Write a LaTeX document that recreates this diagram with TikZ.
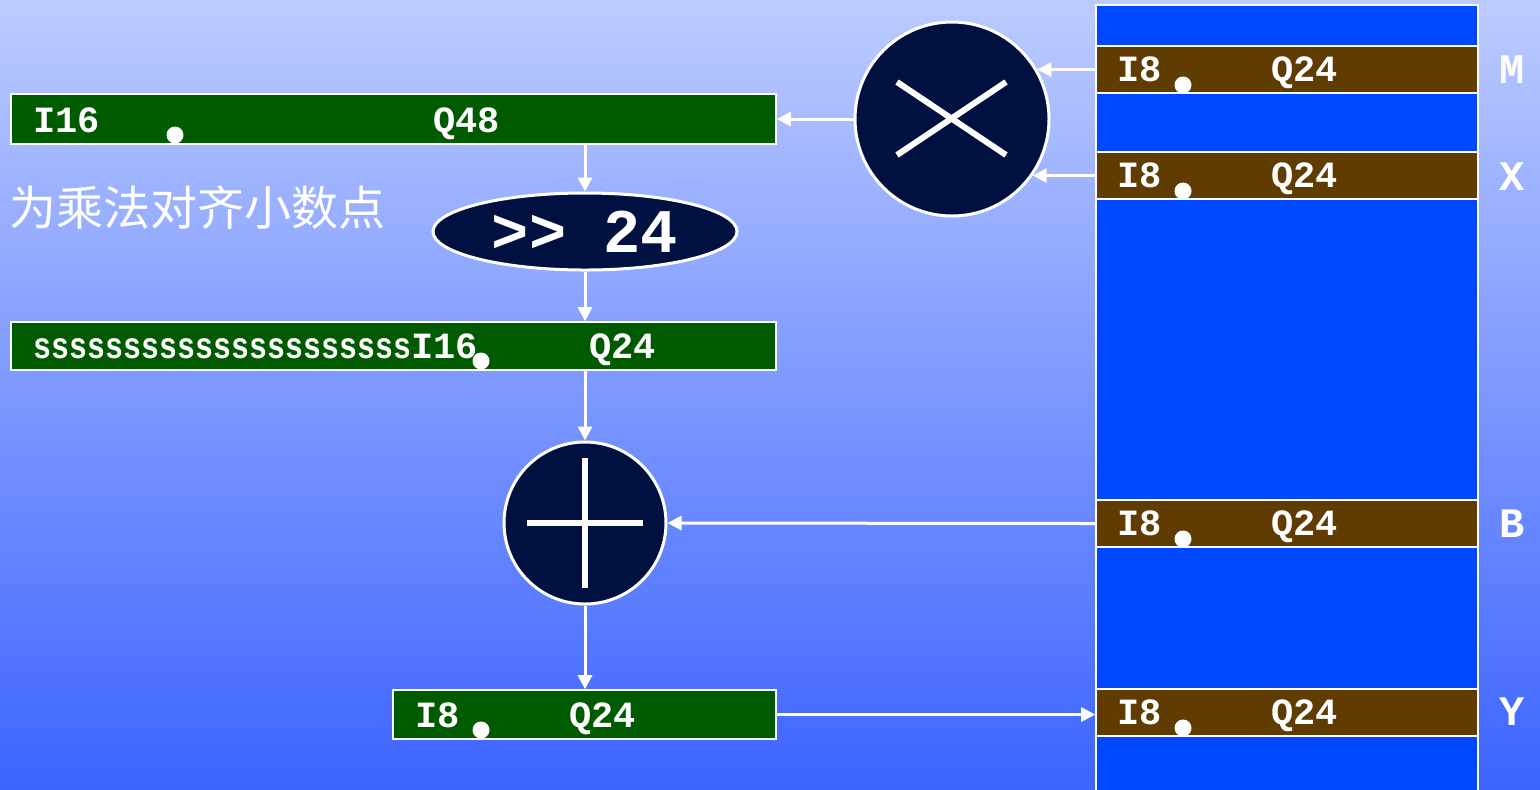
\documentclass[tikz,border=0pt]{standalone}
\usepackage{fontspec}
\usepackage{graphicx}
\setmonofont{Liberation Mono}
\newfontfamily\cjk{Noto Sans CJK SC}
\usetikzlibrary{positioning, arrows.meta, shapes.geometric, calc}
\definecolor{bgtop}{RGB}{188,203,255}
\definecolor{bgbot}{RGB}{60,100,255}
\definecolor{reggreen}{RGB}{0,90,0}
\definecolor{membrown}{RGB}{96,60,0}
\definecolor{memblue}{RGB}{0,72,255}
\definecolor{opnavy}{RGB}{0,16,64}
\tikzset{
  regbox/.style={
    rectangle, draw=white, line width=0.8pt,
    fill=reggreen, inner sep=0pt
  },
  membar/.style={
    rectangle, draw=white, line width=0.8pt,
    fill=membrown, inner sep=0pt,
    minimum width=191pt, minimum height=23.5pt
  },
  memcol/.style={
    rectangle, draw=white, line width=0.8pt,
    fill=memblue, inner sep=0pt
  },
  opcircle/.style={
    circle, draw=white, line width=1.5pt,
    fill=opnavy, inner sep=0pt
  },
  bitlabel/.style={
    text=white, inner sep=0pt, anchor=base west,
    font=\ttfamily\bfseries\fontsize{18.5}{20}\selectfont
  },
  reglabel/.style={
    text=white, inner sep=0pt, anchor=base,
    font=\ttfamily\bfseries\fontsize{21}{24}\selectfont
  },
  pointdot/.style={circle, fill=white, minimum size=8.5pt, inner sep=0pt},
  wire/.style={
    -{Triangle[length=7pt,width=7pt]}, draw=white, line width=1.5pt
  },
  opstroke/.style={draw=white, line width=3pt}
}

\begin{document}
\begin{tikzpicture}[x=0.5pt, y=-0.5pt]
  \shade[top color=bgtop, bottom color=bgbot] (0,0) rectangle (1540,789);
  \useasboundingbox (0,0) rectangle (1540,789);

  % memory column
  \node[memcol, minimum width=191pt, minimum height=393.5pt] (mem) at (1287,398.5) {};
  \node[membar] (memM) at (1287,69.5) {};
  \node[membar] (memX) at (1287,175.5) {};
  \node[membar] (memB) at (1287,523.5) {};
  \node[membar] (memY) at (1287,712.5) {};
  \foreach \nm/\yb in {M/81, X/187, B/535, Y/724} {
    \node[bitlabel] (memI\nm) at (1117,\yb) {I8};
    \node[bitlabel] (memQ\nm) at (1271,\yb) {Q24};
    \node[pointdot] (memD\nm) at (1183,\yb+4) {};
  }
  \node[reglabel] (labM) at (1512,83) {M};
  \node[reglabel] (labX) at (1512,190) {X};
  \node[reglabel] (labB) at (1512,537) {B};
  \node[reglabel] (labY) at (1512,725) {Y};

  % registers
  \node[regbox, minimum width=382.5pt, minimum height=25pt] (gtop) at (393.5,119) {};
  \node[bitlabel] (gtopI) at (33,132) {I16};
  \node[bitlabel] (gtopQ) at (433,132) {Q48};
  \node[pointdot] (gtopD) at (175,135) {};

  \node[regbox, minimum width=382.5pt, minimum height=24pt] (gmid) at (393.5,346) {};
  \node[bitlabel] (gmidI) at (33,358) {\scalebox{0.81}[1]{sssssssssssssssssssss}I16};
  \node[bitlabel] (gmidQ) at (589,358) {Q24};
  \node[pointdot] (gmidD) at (481,361) {};

  \node[regbox, minimum width=191.5pt, minimum height=24.5pt] (gbot) at (584.5,714.5) {};
  \node[bitlabel] (gbotI) at (415,727) {I8};
  \node[bitlabel] (gbotQ) at (569,727) {Q24};
  \node[pointdot] (gbotD) at (481,730) {};

  \node[text=white, inner sep=0pt, anchor=west,
        font=\cjk\fontsize{23.5}{26}\selectfont] (note) at (9,208) {为乘法对齐小数点};

  % operators
  \node[opcircle, minimum size=97pt] (mul) at (952,119) {};
  \draw[opstroke] ([shift={(-55,-37)}]mul.center) -- ([shift={(54,36)}]mul.center);
  \draw[opstroke] ([shift={(-55,36)}]mul.center) -- ([shift={(54,-37)}]mul.center);

  \node[ellipse, draw=white, line width=1.5pt, fill=opnavy, inner sep=0pt,
        minimum width=152pt, minimum height=38.5pt, text=white,
        font=\ttfamily\bfseries\fontsize{31}{34}\selectfont] (shr) at (585,231.5) {>> 24};

  \node[opcircle, minimum size=81pt] (add) at (585,523) {};
  \draw[opstroke] ([xshift=-29pt]add.center) -- ([xshift=29pt]add.center);
  \draw[opstroke] ([yshift=32.5pt]add.center) -- ([yshift=-32.5pt]add.center);

  % connectors
  \draw[wire] (memM.west) -- (memM.west -| mul.30.7);
  \draw[wire] (memX.west) -- (memX.west -| mul.-35.6);
  \draw[wire] (mul.west) -- (gtop.east);
  \draw[wire] (gtop.south -| shr.north) -- (shr.north);
  \draw[wire] (shr.south) -- (gmid.north -| shr.south);
  \draw[wire] (gmid.south -| add.north) -- (add.north);
  \draw[wire] (memB.west) -- (add.east);
  \draw[wire] (add.south) -- (gbot.north -| add.south);
  \draw[wire] (gbot.east) -- (gbot.east -| memY.west);
\end{tikzpicture}
\end{document}
